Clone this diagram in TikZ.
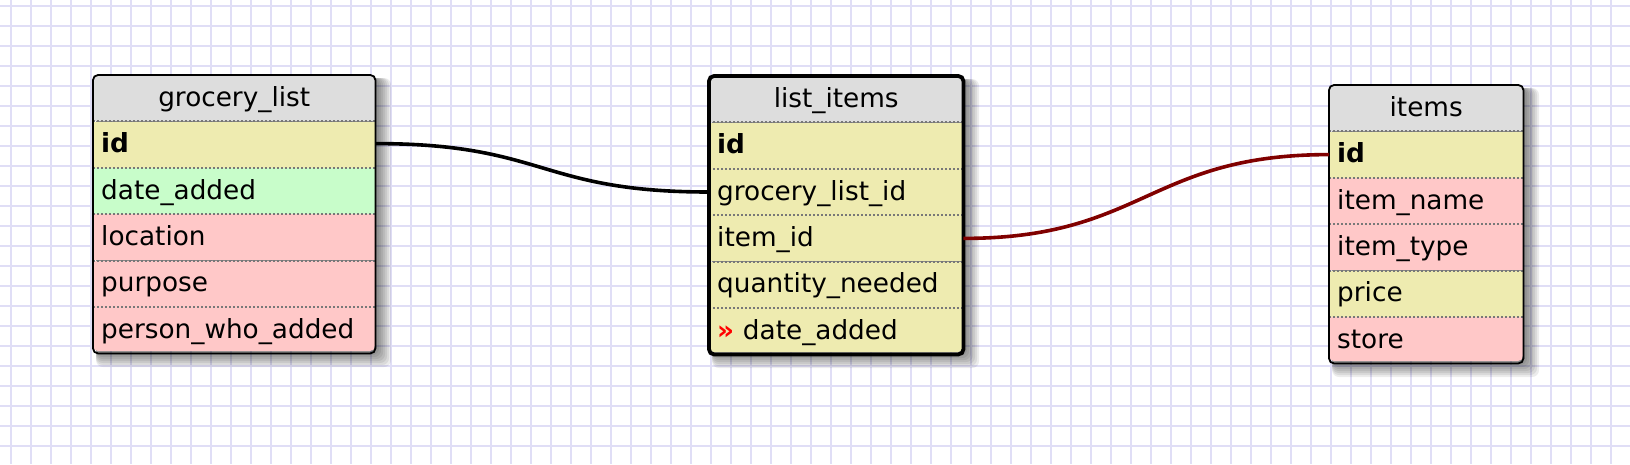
\documentclass[tikz,border=0pt]{standalone}
\usepackage{fontspec}
\setmainfont{DejaVu Sans}
\definecolor{gridc}{RGB}{224,222,246}
\definecolor{hdrgray}{RGB}{221,221,221}
\definecolor{yel}{RGB}{238,235,176}
\definecolor{pnk}{RGB}{255,200,200}
\definecolor{grn}{RGB}{200,253,202}
\definecolor{sepc}{RGB}{120,120,120}
\definecolor{darkred}{RGB}{128,0,0}
\newcommand{\fs}{\fontsize{26.3}{31}\selectfont}
\newcommand{\boxshadow}[4]{%
  \foreach \r in {0,2,...,14}
    \fill[black, opacity=0.075, rounded corners=7pt]
      (#1+3,#2+3) rectangle (#1+#3+2+\r,#2+#4+2+\r);
}
\tikzset{
  gridline/.style={draw=gridc, line width=2pt},
  cell/.style={anchor=north west, minimum height=46pt, inner ysep=0pt, inner xsep=8pt,
    text height=20pt, text depth=4pt, align=left, font=\fs},
  hdr/.style={cell, fill=hdrgray, align=center},
  ycell/.style={cell, fill=yel},
  pcell/.style={cell, fill=pnk},
  gcell/.style={cell, fill=grn},
  sep/.style={draw=sepc, line width=2pt, dash pattern=on 2pt off 2pt},
  border/.style={draw=black, line width=1.8pt, rounded corners=5pt},
  thickborder/.style={draw=black, line width=3.8pt, rounded corners=5pt},
  conn/.style={draw=black, line width=3.6pt},
  redconn/.style={draw=darkred, line width=3.6pt},
}
\begin{document}
\begin{tikzpicture}[x=1pt,y=-1pt]
\useasboundingbox (0,0) rectangle (1630,464);
\fill[white] (0,0) rectangle (1630,464);
\foreach \x in {11,31,...,1631} \draw[gridline] (\x,0) -- (\x,464);
\foreach \y in {6,26,...,466} \draw[gridline] (0,\y) -- (1630,\y);

% grocery_list
\boxshadow{93}{75}{282}{276}
\begin{scope}
\clip[rounded corners=5pt] (93,75) rectangle ++(282,276);
\node[hdr, text width=266pt] (gl-h) at (93,75) {grocery\_list};
\node[ycell, text width=266pt] (gl-id) at (gl-h.south west) {\textbf{id}};
\node[gcell, text width=266pt] (gl-da) at (gl-id.south west) {date\_added};
\node[pcell, text width=266pt] (gl-lo) at (gl-da.south west) {location};
\node[pcell, text width=266pt] (gl-pu) at (gl-lo.south west) {purpose};
\node[pcell, text width=266pt] (gl-pw) at (gl-pu.south west) {person\_who\_added};
\end{scope}
\foreach \n in {gl-id,gl-da,gl-lo,gl-pu,gl-pw} \draw[sep] (\n.north west) -- (\n.north east);
\draw[border] (gl-h.north west) rectangle (gl-pw.south east);

% list_items
\boxshadow{709}{76}{254}{276}
\begin{scope}
\clip[rounded corners=5pt] (709,76) rectangle ++(254,276);
\node[hdr, text width=238pt] (li-h) at (709,76) {list\_items};
\node[ycell, text width=238pt] (li-id) at (li-h.south west) {\textbf{id}};
\node[ycell, text width=238pt] (li-gl) at (li-id.south west) {grocery\_list\_id};
\node[ycell, text width=238pt] (li-it) at (li-gl.south west) {item\_id};
\node[ycell, text width=238pt] (li-qn) at (li-it.south west) {quantity\_needed};
\node[ycell, text width=238pt] (li-da) at (li-qn.south west) {\textcolor{red}{\textbf{»}} date\_added};
\end{scope}
\foreach \n in {li-id,li-gl,li-it,li-qn,li-da} \draw[sep] (\n.north west) -- (\n.north east);
\draw[thickborder] (li-h.north west) rectangle (li-da.south east);

% items
\boxshadow{1329}{85}{194}{276}
\begin{scope}
\clip[rounded corners=5pt] (1329,85) rectangle ++(194,276);
\node[hdr, text width=178pt] (it-h) at (1329,85) {items};
\node[ycell, text width=178pt] (it-id) at (it-h.south west) {\textbf{id}};
\node[pcell, text width=178pt] (it-nm) at (it-id.south west) {item\_name};
\node[pcell, text width=178pt] (it-ty) at (it-nm.south west) {item\_type};
\node[ycell, text width=178pt] (it-pr) at (it-ty.south west) {price};
\node[pcell, text width=178pt] (it-st) at (it-pr.south west) {store};
\end{scope}
\foreach \n in {it-id,it-nm,it-ty,it-pr,it-st} \draw[sep] (\n.north west) -- (\n.north east);
\draw[border] (it-h.north west) rectangle (it-st.south east);

% connectors
\draw[conn] ([yshift=1pt]gl-id.east) .. controls +(170,0) and +(-170,0) .. (li-gl.west);
\draw[redconn] (li-it.east) .. controls +(180,0) and +(-180,0) .. (it-id.west);
\end{tikzpicture}
\end{document}
